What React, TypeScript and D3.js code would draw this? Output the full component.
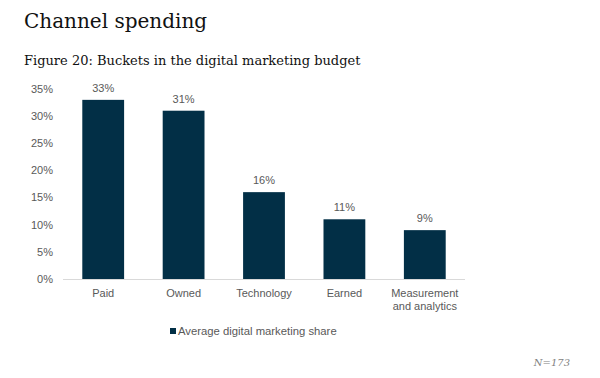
import React from "react";
import * as d3 from "d3";

const categories = ["Paid", "Owned", "Technology", "Earned", "Measurement\nand analytics"];
const values = [33, 31, 16, 11, 9];
const yTicks = [0, 5, 10, 15, 20, 25, 30, 35];
const title = "Channel spending";
const subtitle = "Figure 20: Buckets in the digital marketing budget";
const seriesName = "Average digital marketing share";
const note = "N=173";

export default function App() {
  const W = 600, H = 378;
  const x = d3.scaleBand<string>().domain(categories).range([63, 465]).paddingInner(0.48).paddingOuter(0.24);
  const y = d3.scaleLinear().domain([0, 35]).range([279, 89]);
  const barColor = "#022f46";
  const gray = "#595959";
  const sans = "Liberation Sans, Arial, sans-serif";
  const serif = "DejaVu Serif, Georgia, serif";
  return (
    <svg width={W} height={H} style={{ position: "absolute", left: 0, top: 0, background: "#fff" }}>
      <text x={24} y={28} fontFamily={serif} fontSize={20} fill="#111">{title}</text>
      <text x={24} y={65} fontFamily={serif} fontSize={13} fill="#111">{subtitle}</text>
      {yTicks.map((t) => (
        <text key={t} x={53} y={y(t)} dy="0.35em" textAnchor="end" fontFamily={sans} fontSize={11} fill={gray}>{t}%</text>
      ))}
      <line x1={63} x2={465} y1={y(0) + 0.5} y2={y(0) + 0.5} stroke="#d9d9d9" strokeWidth={1} />
      {categories.map((c, i) => (
        <g key={c}>
          <rect x={x(c)} y={y(values[i])} width={x.bandwidth()} height={y(0) - y(values[i])} fill={barColor} />
          <text x={x(c)! + x.bandwidth() / 2} y={y(values[i]) - 8} textAnchor="middle" fontFamily={sans} fontSize={11} fill={gray}>{values[i]}%</text>
          {c.split("\n").map((line, j) => (
            <text key={j} x={x(c)! + x.bandwidth() / 2} y={293 + j * 13} dy="0.35em" textAnchor="middle" fontFamily={sans} fontSize={11} fill={gray}>{line}</text>
          ))}
        </g>
      ))}
      <rect x={170} y={328} width={6} height={6} fill={barColor} />
      <text x={178} y={331} dy="0.35em" fontFamily={sans} fontSize={11.3} fill={gray}>{seriesName}</text>
      <text x={570} y={366} textAnchor="end" fontFamily={serif} fontStyle="italic" fontSize={10} fill="#7f7f7f">{note}</text>
    </svg>
  );
}
